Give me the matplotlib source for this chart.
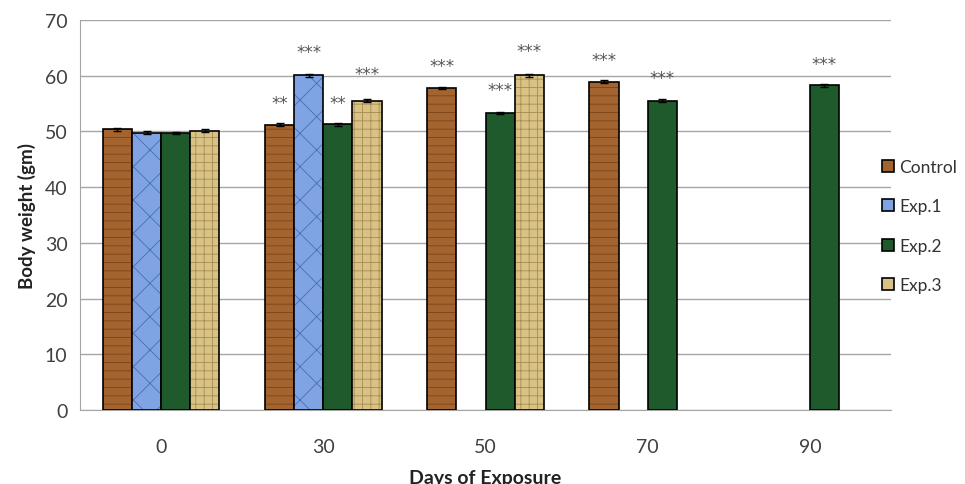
import numpy as np
import matplotlib
matplotlib.use("Agg")
import matplotlib.pyplot as plt
from matplotlib.patches import Patch

days = ["0", "30", "50", "70", "90"]
series = ["Control", "Exp.1", "Exp.2", "Exp.3"]
control = [50.4, 51.2, 57.8, 58.9, np.nan]
exp1 = [49.8, 60.1, np.nan, np.nan, np.nan]
exp2 = [49.7, 51.3, 53.3, 55.5, 58.3]
exp3 = [50.1, 55.5, 60.1, np.nan, np.nan]
errors = [0.25, 0.25, 0.25, 0.25]
values = [control, exp1, exp2, exp3]

# significance labels and heights (text positions in data units)
sig_labels = {
    (0, 1): ("**", 55.1), (1, 1): ("***", 64.3), (2, 1): ("**", 55.1), (3, 1): ("***", 60.3),
    (0, 2): ("***", 61.8), (2, 2): ("***", 57.5), (3, 2): ("***", 64.5),
    (0, 3): ("***", 62.9), (2, 3): ("***", 59.6),
    (2, 4): ("***", 62.1),
}

colors = ["#A3642F", "#7FA3E3", "#1F5A2C", "#D8C286"]
hatches = ["--", "x", "", "++"]
hatch_colors = ["#7A4418", "#4A6FB8", "#2E7040", "#A88C50"]

plt.rcParams['font.family'] = ['Lato', 'DejaVu Sans']
plt.rcParams['hatch.linewidth'] = 0.6

fig = plt.figure(figsize=(9.65, 4.85), dpi=100)
ax = fig.add_axes([80/965, 1-411/485, (891-80)/965, (411-21)/485])

x = np.arange(len(days))
w = 0.18
for i, (name, vals) in enumerate(zip(series, values)):
    pos = x + (i - 1.5) * w
    vals = np.array(vals, dtype=float)
    mask = ~np.isnan(vals)
    bars = ax.bar(pos[mask], vals[mask], width=w, color=colors[i], edgecolor="black",
                  linewidth=1.2, zorder=3)
    for b in bars:
        b.set_hatch(hatches[i])
        b._hatch_color = matplotlib.colors.to_rgba(hatch_colors[i])
    ax.errorbar(pos[mask], vals[mask], yerr=errors[i], fmt="none", ecolor="black",
                elinewidth=1, capsize=3, zorder=4)

for (si, gi), (lab, yv) in sig_labels.items():
    ax.text(x[gi] + (si - 1.5) * w, yv, lab, ha="center", va="center",
            fontsize=12, color="#555555", zorder=5, family="DejaVu Sans")

ax.set_xlim(-0.5, 4.5)
ax.set_ylim(0, 70)
ax.set_yticks(range(0, 71, 10))
ax.set_xticks(x)
ax.set_xticklabels(days)
ax.yaxis.grid(True, color="#A6A6A6", linewidth=1.0, zorder=0)
ax.set_axisbelow(True)
for s in ["top", "right"]:
    ax.spines[s].set_visible(False)
ax.spines["left"].set_color("#A6A6A6")
ax.spines["bottom"].set_color("#A6A6A6")
ax.tick_params(axis="both", length=0, labelsize=14, colors="#404040", pad=9)
ax.tick_params(axis="x", pad=20)
ax.set_ylabel("Body weight (gm)", fontsize=13.5, fontweight="bold", color="#222222", labelpad=6)
ax.set_xlabel("Days of Exposure", fontsize=14, fontweight="bold", color="#222222", labelpad=10)

handles = [Patch(facecolor=colors[i], edgecolor="black", linewidth=1.2, label=series[i])
           for i in range(4)]
leg = fig.legend(handles=handles, loc="center left", bbox_to_anchor=(877/965, 1-227/485),
                 frameon=False, fontsize=12.5, handlelength=0.7, handleheight=0.7,
                 handletextpad=0.3, labelspacing=1.35, borderaxespad=0, borderpad=0.3)
for t in leg.get_texts():
    t.set_color("#333333")

fig.savefig("out.png", dpi=100)
